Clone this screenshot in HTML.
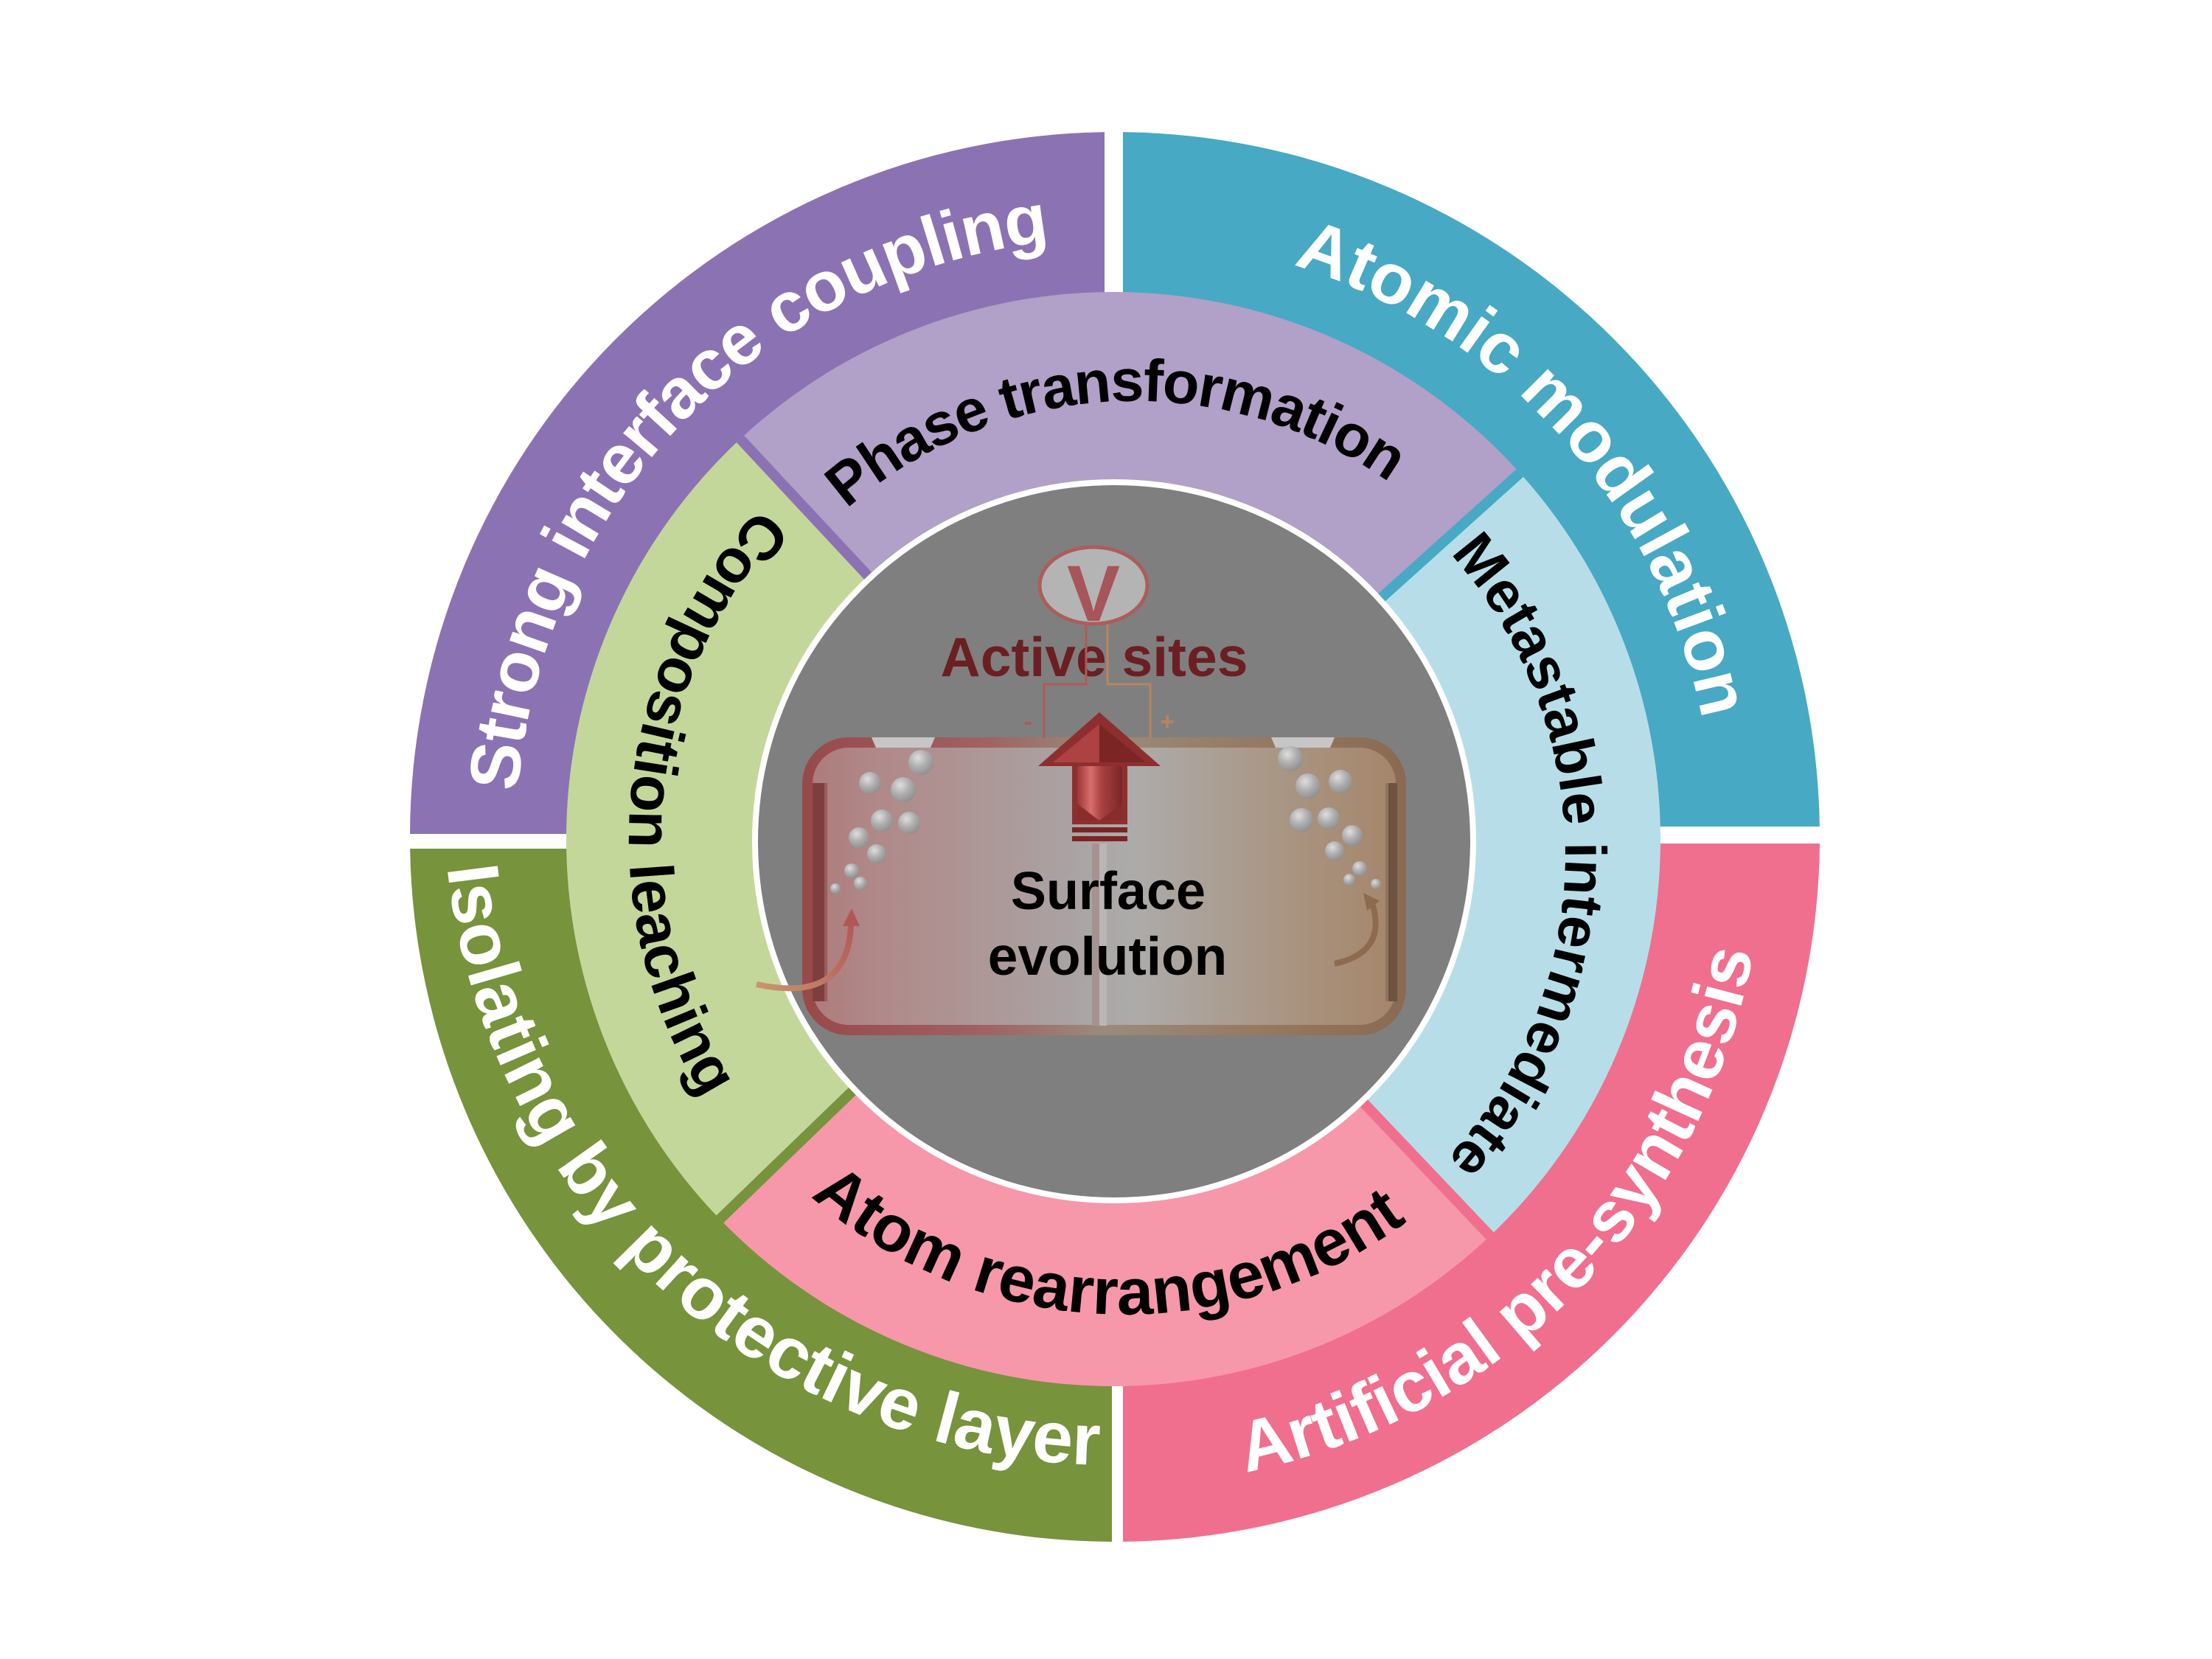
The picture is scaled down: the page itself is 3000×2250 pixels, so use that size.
<!DOCTYPE html>
<html>
<head>
<meta charset="utf-8">
<style>
  html, body { margin: 0; padding: 0; background: #ffffff; }
  svg { display: block; }
  .outer { font-family: "Liberation Sans", Arial, sans-serif; font-weight: bold; fill: #ffffff; }
  .mid { font-family: "Liberation Sans", Arial, sans-serif; font-weight: bold; fill: #000000; }
</style>
</head>
<body>
<svg width="3000" height="2250" viewBox="0 0 3000 2250" xmlns="http://www.w3.org/2000/svg">
  <defs>
    <!-- text paths -->
    <path id="pStrong" d="M899.2 1667.8 A812 812 0 0 1 2023.0 504.0"/>
    <path id="pAtomic" d="M1023.3 486.5 A812 812 0 0 1 2105.9 1688.8"/>
    <path id="pArtificial" d="M954.6 1816.0 A880 880 0 0 0 2179.1 561.2"/>
    <path id="pIsolating" d="M789.3 521.4 A911 911 0 0 0 2127.5 1747.7"/>
    <path id="pPhase" d="M945.4 1116.2 A594 594 0 0 1 2127.4 1056.4"/>
    <path id="pMeta" d="M1568.4 550.6 A611 611 0 0 1 1562.1 1767.9"/>
    <path id="pAtom" d="M880.7 1167.3 A645 645 0 0 0 2164.6 1221.1"/>
    <path id="pComp" d="M1514.6 481.0 A657 657 0 0 0 1391.4 1784.2"/>

    <linearGradient id="boxFill" x1="0" y1="0" x2="1" y2="0">
      <stop offset="0" stop-color="#ad7b7b"/>
      <stop offset="0.12" stop-color="#b08989"/>
      <stop offset="0.45" stop-color="#aaa3a3"/>
      <stop offset="0.55" stop-color="#adabaa"/>
      <stop offset="0.85" stop-color="#a8917c"/>
      <stop offset="1" stop-color="#a5856a"/>
    </linearGradient>
    <linearGradient id="boxStroke" x1="0" y1="0" x2="1" y2="0">
      <stop offset="0" stop-color="#984a4a"/>
      <stop offset="0.3" stop-color="#a06262"/>
      <stop offset="0.5" stop-color="#9a8b7a"/>
      <stop offset="0.75" stop-color="#967a62"/>
      <stop offset="1" stop-color="#8a6a52"/>
    </linearGradient>
    <radialGradient id="bub" cx="0.38" cy="0.32" r="0.7">
      <stop offset="0" stop-color="#dedede"/>
      <stop offset="0.55" stop-color="#adadad"/>
      <stop offset="1" stop-color="#909090"/>
    </radialGradient>
    <linearGradient id="shaft" x1="0" y1="0" x2="1" y2="0">
      <stop offset="0" stop-color="#9a3636"/>
      <stop offset="0.3" stop-color="#d86e6e"/>
      <stop offset="0.55" stop-color="#a84040"/>
      <stop offset="1" stop-color="#7a2626"/>
    </linearGradient>
    <linearGradient id="larrow" gradientUnits="userSpaceOnUse" x1="1026" y1="1335" x2="1154" y2="1240">
      <stop offset="0" stop-color="#c8946e"/>
      <stop offset="1" stop-color="#b35656"/>
    </linearGradient>
  </defs>

  <rect x="0" y="0" width="3000" height="2250" fill="#ffffff"/>

  <!-- Outer quadrants -->
  <path d="M1498 1131 L1498 179.1 A956 956 0 0 0 556 1131 Z" fill="#8b73b3"/>
  <path d="M1523 1121 L1523 179.1 A956 956 0 0 1 2467.9 1121 Z" fill="#47a9c4"/>
  <path d="M1508 1151 L556.1 1151 A956 956 0 0 0 1508 2091 Z" fill="#77933c"/>
  <path d="M1523 1144 L2468 1144 A956 956 0 0 1 1523 2090.9 Z" fill="#f06f8e"/>

  <!-- Middle ring sectors -->
  <path d="M1510 1138 L2061.4 641.5 A742 742 0 0 0 1004.0 595.3 Z" fill="#b1a0c7"/>
  <path d="M1510 1138 L1004.0 595.3 A742 742 0 0 0 976.3 1653.5 Z" fill="#c4d79b"/>
  <path d="M1510 1138 L976.3 1653.5 A742 742 0 0 0 2020.8 1676.2 Z" fill="#f797aa"/>
  <path d="M1510 1138 L2020.8 1676.2 A742 742 0 0 0 2061.4 641.5 Z" fill="#b7dee8"/>

  <!-- gap stripes -->
  <line x1="1510" y1="1138" x2="2061.4" y2="641.5" stroke="#47a9c4" stroke-width="14"/>
  <line x1="1510" y1="1138" x2="1004.0" y2="595.3" stroke="#8b73b3" stroke-width="14"/>
  <line x1="1510" y1="1138" x2="976.3" y2="1653.5" stroke="#77933c" stroke-width="14"/>
  <line x1="1510" y1="1138" x2="2020.8" y2="1676.2" stroke="#f06f8e" stroke-width="14"/>

  <!-- Outer texts -->
  <text class="outer" font-size="96" letter-spacing="-1.5"><textPath href="#pStrong" startOffset="50%" text-anchor="middle">Strong interface coupling</textPath></text>
  <text class="outer" font-size="97" letter-spacing="-0.5"><textPath href="#pAtomic" startOffset="50%" text-anchor="middle">Atomic modulation</textPath></text>
  <text class="outer" font-size="97"><textPath href="#pArtificial" startOffset="50%" text-anchor="middle">Artificial pre-synthesis</textPath></text>
  <text class="outer" font-size="99"><textPath href="#pIsolating" startOffset="50%" text-anchor="middle">Isolating by protective layer</textPath></text>

  <!-- Middle texts -->
  <text class="mid" font-size="81" letter-spacing="-2"><textPath href="#pPhase" startOffset="50%" text-anchor="middle">Phase transformation</textPath></text>
  <text class="mid" font-size="79"><textPath href="#pMeta" startOffset="50%" text-anchor="middle">Metastable intermediate</textPath></text>
  <text class="mid" font-size="89"><textPath href="#pAtom" startOffset="50%" text-anchor="middle">Atom rearrangement</textPath></text>
  <text class="mid" font-size="83"><textPath href="#pComp" startOffset="50%" text-anchor="middle">Composition leaching</textPath></text>

  <!-- Center gray circle -->
  <circle cx="1511" cy="1141" r="487" fill="#7f7f7f" stroke="#ffffff" stroke-width="8"/>

  <!-- Battery box -->
  <rect x="1095" y="1007" width="805" height="390" rx="56" ry="56" fill="url(#boxFill)" stroke="url(#boxStroke)" stroke-width="14"/>
  <!-- top slots -->
  <polygon points="1182,1000 1268,1000 1262,1014 1188,1014" fill="#c6c6c6"/>
  <polygon points="1724,1000 1810,1000 1804,1014 1730,1014" fill="#c6c6c6"/>
  <!-- electrodes -->
  <rect x="1102" y="1062" width="16" height="296" fill="#7e3e3e"/>
  <rect x="1118" y="1062" width="4" height="296" fill="#9a5c5c"/>
  <rect x="1879" y="1062" width="4" height="296" fill="#8e7560"/>
  <rect x="1883" y="1062" width="12" height="296" fill="#6e5440"/>
  <!-- membrane -->
  <rect x="1481" y="1144" width="10" height="247" fill="#a79292"/>
  <rect x="1491" y="1144" width="10" height="247" fill="#b9b6b6"/>

  <!-- bubbles -->
  <g fill="url(#bub)">
    <circle cx="1249" cy="1034" r="17"/>
    <circle cx="1180" cy="1062" r="15"/>
    <circle cx="1225" cy="1071" r="17"/>
    <circle cx="1196" cy="1113" r="15"/>
    <circle cx="1233" cy="1116" r="15"/>
    <circle cx="1165" cy="1136" r="14"/>
    <circle cx="1189" cy="1158" r="13"/>
    <circle cx="1155" cy="1181" r="10"/>
    <circle cx="1167" cy="1198" r="9"/>
    <circle cx="1133" cy="1205" r="7"/>
    <circle cx="1750" cy="1029" r="17"/>
    <circle cx="1818" cy="1060" r="16"/>
    <circle cx="1774" cy="1066" r="17"/>
    <circle cx="1765" cy="1112" r="16"/>
    <circle cx="1802" cy="1110" r="15"/>
    <circle cx="1834" cy="1133" r="14"/>
    <circle cx="1810" cy="1154" r="13"/>
    <circle cx="1844" cy="1178" r="10"/>
    <circle cx="1830" cy="1193" r="8"/>
    <circle cx="1866" cy="1199" r="7"/>
  </g>

  <!-- curved arrows -->
  <path d="M1026 1335 Q1150 1362 1154 1254" fill="none" stroke="url(#larrow)" stroke-width="8"/>
  <polygon points="1155,1232 1143,1256 1166,1256" fill="#b35656"/>
  <path d="M1810 1307 Q1880 1292 1862 1228" fill="none" stroke="#8e6a4f" stroke-width="8"/>
  <polygon points="1849,1211 1871,1222 1854,1235" fill="#8e6a4f"/>

  <!-- Active sites text -->
  <text x="1484" y="917" text-anchor="middle" font-family="'Liberation Sans', Arial, sans-serif" font-weight="bold" font-size="75" fill="#6b1f22">Active sites</text>

  <!-- wires -->
  <polyline points="1473,846 1473,928 1416,928 1416,1001" fill="none" stroke="#b05a55" stroke-width="3"/>
  <polyline points="1502,846 1502,928 1560,928 1560,1001" fill="none" stroke="#b8845f" stroke-width="3"/>
  <text x="1394" y="990" text-anchor="middle" font-family="'Liberation Sans', Arial, sans-serif" font-weight="bold" font-size="34" fill="#b05a55">-</text>
  <text x="1583" y="990" text-anchor="middle" font-family="'Liberation Sans', Arial, sans-serif" font-weight="bold" font-size="34" fill="#b8845f">+</text>

  <!-- V meter -->
  <ellipse cx="1483" cy="794" rx="73" ry="52" fill="#b4b4b4" stroke="#ad5c5c" stroke-width="5"/>
  <text x="1483" y="842" text-anchor="middle" font-family="'Liberation Sans', Arial, sans-serif" font-weight="bold" font-size="108" fill="#a6555a">V</text>

  <!-- big red arrow -->
  <polygon points="1491,966 1574,1039 1529,1039 1529,1118 1454,1118 1454,1039 1408,1039" fill="#8e2f2f"/>
  <polygon points="1491,982 1428,1034 1491,1034" fill="#ac4242"/>
  <polygon points="1491,982 1554,1034 1491,1034" fill="#7c2525"/>
  <rect x="1461" y="1039" width="61" height="74" fill="url(#shaft)"/>
  <polygon points="1461,1090 1491,1113 1522,1090 1522,1113 1461,1113" fill="#8a2c2c"/>
  <rect x="1454" y="1122" width="75" height="7" fill="#7a2525"/>
  <rect x="1454" y="1134" width="75" height="7" fill="#7a2525"/>

  <!-- Surface evolution -->
  <text x="1503" y="1233" text-anchor="middle" font-family="'Liberation Sans', Arial, sans-serif" font-weight="bold" font-size="72" fill="#000000">Surface</text>
  <text x="1502" y="1322" text-anchor="middle" font-family="'Liberation Sans', Arial, sans-serif" font-weight="bold" font-size="73" fill="#000000">evolution</text>
</svg>
</body>
</html>
